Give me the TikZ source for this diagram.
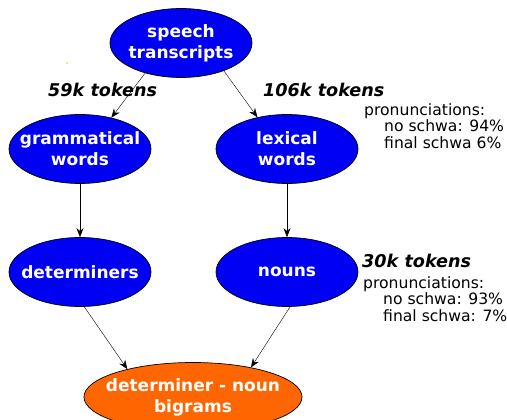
\documentclass[tikz,border=0pt]{standalone}
\usepackage{fontspec}
\setmainfont{DejaVu Sans}
\usepackage{tikz}
\usetikzlibrary{positioning,calc,arrows.meta,shapes.geometric}
\usepackage{xcolor}
\definecolor{nodeblue}{HTML}{0000F5}
\definecolor{nodeorange}{HTML}{FF6600}

\begin{document}
\begin{tikzpicture}[x=1pt,y=-1pt,
    cat/.style={ellipse,draw,line width=0.7pt,fill=nodeblue,text=white,font=\fontsize{17}{21}\selectfont\bfseries,
      minimum width=142pt,minimum height=69pt,inner xsep=-10pt,inner ysep=0pt,align=center},
    tok/.style={font=\fontsize{17.6}{20}\selectfont\bfseries\itshape,anchor=west,inner sep=0pt},
    pron/.style={font=\fontsize{15.6}{16.5}\selectfont,anchor=north west,inner sep=0pt,align=left},
    arr/.style={-{Stealth[length=9pt,width=7pt]}}]

\useasboundingbox (0,0) rectangle (507,420);

\node[cat] (st) at (181,43) {speech\\transcripts};
\node[cat] (gw) at (80,149) {grammatical\\words};
\node[cat] (lw) at (287,149) {lexical\\words};
\node[cat] (det) at (80,272) {determiners};
\node[cat] (nn) at (287,272) {nouns};
\node[cat,fill=nodeorange,minimum width=213pt] (bg) at (193,397) {determiner - noun\\bigrams};

\node[tok] (t59) at (48,90) {59k tokens};
\node[tok] (t106) at (263,90) {106k tokens};
\node[tok] (t30) at (362,261) {30k tokens};

\node[pron] (p1) at (364,103) {pronunciations:\\\hspace{20pt}no schwa: 94\%\\\hspace{20pt}final schwa 6\%};
\node[pron] (p2) at (363,276) {pronunciations:\\\hspace{20pt}no schwa: 93\%\\\hspace{20pt}final schwa: 7\%};

\fill[yellow!80!black] (67,63) circle (0.9pt);

\draw[arr] (st.220) -- (gw.45);
\draw[arr] (st.327) -- (lw.133);
\draw[arr] (gw) -- (det);
\draw[arr] (lw) -- (nn);
\draw[arr] (det.277) -- (bg.157);
\draw[arr] (nn.275) -- (bg.27);

\end{tikzpicture}
\end{document}
